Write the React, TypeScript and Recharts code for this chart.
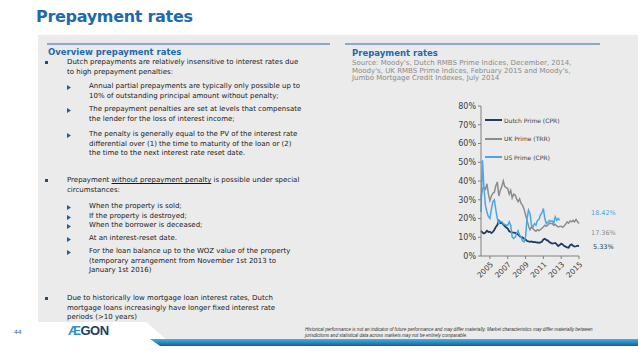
import { LineChart, Line, XAxis, YAxis, Legend } from 'recharts';

// tick labels
const years = [2004, 2005, 2006, 2007, 2008, 2009, 2010, 2011, 2012, 2013, 2014, 2015];
const pctTicks = [0, 10, 20, 30, 40, 50, 60, 70, 80];

// values, six readings per year (Jan 2004 .. Jan 2015)
const dutchPrime = [
  13.5, 12.5, 12.0, 12.5, 13.5, 12.8,
  13.0, 12.2, 12.8, 14.0, 15.5, 16.5,
  18.8, 17.5, 17.8, 16.8, 16.0, 15.2,
  14.6, 13.2, 12.8, 12.6, 12.5, 12.3,
  12.0, 11.5, 10.5, 10.2, 9.8, 9.2,
  8.8, 8.0, 7.8, 7.6, 7.8, 7.4,
  7.5, 7.3, 7.2, 7.0, 7.3, 7.6,
  8.8, 9.2, 8.6, 8.2, 7.5, 7.0,
  6.6, 6.8, 7.0, 6.2, 5.3, 5.8,
  6.6, 6.2, 5.3, 5.0, 4.6, 4.4,
  5.8, 6.2, 5.4, 5.0, 5.2, 5.5,
  5.33,
];
const ukPrime = [
  31.0, 36.0, 36.5, 35.5, 38.5, 33.0,
  29.5, 32.0, 33.5, 34.0, 37.5, 39.5,
  32.0, 35.0, 37.0, 40.0, 37.0, 36.5,
  36.0, 33.0, 35.0, 31.0, 33.0, 32.5,
  30.5, 29.0, 30.5, 28.0, 27.0, 25.0,
  22.0, 19.0, 16.0, 14.0, 15.5, 14.5,
  13.8, 13.2, 14.0, 13.5, 14.0, 14.8,
  15.5, 16.4, 15.8, 16.5, 17.5, 17.3,
  17.3, 16.4, 16.8, 16.0, 15.5, 15.8,
  15.9, 15.3, 16.0, 17.0, 18.2, 17.5,
  18.7, 18.2, 19.0, 18.2, 19.5, 18.2,
  17.36,
];
const usPrime = [
  23.5, 51.0, 36.0, 27.0, 23.5, 21.0,
  20.0, 25.0, 29.0, 30.0, 24.5, 20.0,
  17.3, 18.5, 18.2, 17.3, 16.8, 16.4,
  16.4, 18.2, 16.4, 10.2, 9.3, 10.0,
  12.0, 13.5, 11.0, 10.2, 8.0, 7.5,
  10.2, 20.0, 24.5, 22.6, 16.4, 15.5,
  17.3, 16.5, 19.0, 19.5, 21.8, 23.0,
  25.3, 20.0, 17.3, 18.0, 19.0, 18.5,
  18.75, 17.5, 20.9, 19.0, 20.0, 19.0,
];

const series = [
  { key: 'dutch', name: 'Dutch Prime (CPR)', color: '#1d3d63', width: 1.8 },
  { key: 'uk', name: 'UK Prime (TRR)', color: '#8c8c8c', width: 1.5 },
  { key: 'us', name: 'US Prime (CPR)', color: '#4da6e3', width: 1.5 },
];

const data = dutchPrime.map((v, i) => ({
  t: 2004 + i / 6,
  dutch: v,
  uk: ukPrime[i],
  us: i < usPrime.length ? usPrime[i] : null,
}));

const BLUE = '#1f69ad';
const FONT = '"DejaVu Sans", Verdana, sans-serif';

function ChartLegend() {
  return (
    <div style={{ fontFamily: FONT, fontSize: 6, color: '#404040' }}>
      {series.map((s) => (
        <div key={s.key} style={{ display: 'flex', alignItems: 'center', height: 18.5 }}>
          <span style={{ display: 'inline-block', width: 17, height: 2, background: s.color, marginRight: 2 }} />
          {s.name}
        </div>
      ))}
    </div>
  );
}

function Bullet({ top, sub, lines }: { top: number; sub?: boolean; lines: any[] }) {
  return (
    <div style={{ position: 'absolute', top, left: sub ? 67 : 44, lineHeight: '9.5px' }}>
      {sub ? (
        <svg width="4" height="5" style={{ position: 'absolute', left: 0, top: 3 }}>
          <polygon points="0,0 4,2.5 0,5" fill="#2a5d8f" />
        </svg>
      ) : (
        <span style={{ position: 'absolute', left: 1, top: 3, width: 2.5, height: 2.5, background: '#1f4e79' }} />
      )}
      <div style={{ marginLeft: sub ? 22 : 23, whiteSpace: 'nowrap' }}>
        {lines.map((l, i) => (
          <div key={i}>{l}</div>
        ))}
      </div>
    </div>
  );
}

export default function App() {
  return (
    <div
      style={{
        position: 'absolute', left: 0, top: 0, width: 638, height: 360, overflow: 'hidden',
        background: '#fff', fontFamily: FONT, color: '#1a1a1a',
      }}
    >
      <svg width={638} height={360} style={{ position: 'absolute', left: 0, top: 0 }}>
        <defs>
          <linearGradient id="stripe" x1="0" y1="0" x2="0" y2="1">
            <stop offset="0" stopColor="#3cb4e6" />
            <stop offset="1" stopColor="#1b5c9a" />
          </linearGradient>
        </defs>
        <polygon points="38,35 638,35 638,341 168,341 146,322 38,322" fill="#ebebeb" />
        <polygon points="150,339 638,339 638,346 160,346" fill="url(#stripe)" />
        <line x1={47} y1={44} x2={330} y2={44} stroke="#2b6aa3" strokeWidth={1} />
        <line x1={345} y1={44} x2={600} y2={44} stroke="#2b6aa3" strokeWidth={1} />
      </svg>

      <div style={{ position: 'absolute', left: 36, top: 7, fontSize: 16, fontWeight: 'bold', color: BLUE, letterSpacing: -0.3 }}>
        Prepayment rates
      </div>

      <div style={{ position: 'absolute', left: 0, top: 0, width: 638, height: 360, fontSize: 7 }}>
        <div style={{ position: 'absolute', left: 48, top: 47, fontSize: 8.5, fontWeight: 'bold', color: BLUE, lineHeight: '10px' }}>
          Overview prepayment rates
        </div>
        <Bullet top={58} lines={['Dutch prepayments are relatively insensitive to interest rates due', 'to high prepayment penalties:']} />
        <Bullet top={82} sub lines={['Annual partial prepayments are typically only possible up to', '10% of outstanding principal amount without penalty;']} />
        <Bullet top={105} sub lines={['The prepayment penalties are set at levels that compensate', 'the lender for the loss of interest income;']} />
        <Bullet top={130} sub lines={['The penalty is generally equal to the PV of the interest rate', 'differential over (1) the time to maturity of the loan or (2)', 'the time to the next interest rate reset date.']} />
        <Bullet top={176} lines={[<span>Prepayment <u>without prepayment penalty</u> is possible under special</span>, 'circumstances:']} />
        <Bullet top={202} sub lines={['When the property is sold;']} />
        <Bullet top={212} sub lines={['If the property is destroyed;']} />
        <Bullet top={221} sub lines={['When the borrower is deceased;']} />
        <Bullet top={234} sub lines={['At an interest-reset date.']} />
        <Bullet top={247} sub lines={['For the loan balance up to the WOZ value of the property', '(temporary arrangement from November 1st 2013 to', 'January 1st 2016)']} />
        <Bullet top={294} lines={['Due to historically low mortgage loan interest rates, Dutch', 'mortgage loans increasingly have longer fixed interest rate', 'periods (>10 years)']} />
      </div>

      <div style={{ position: 'absolute', left: 352, top: 48, fontSize: 8.5, fontWeight: 'bold', color: BLUE, lineHeight: '10px' }}>
        Prepayment rates
      </div>
      <div style={{ position: 'absolute', left: 352, top: 60, fontSize: 7, color: '#8a8a8a', lineHeight: '7.7px', whiteSpace: 'nowrap' }}>
        <div>Source: Moody's, Dutch RMBS Prime Indices, December, 2014,</div>
        <div>Moody's, UK RMBS Prime Indices, February 2015 and Moody's,</div>
        <div>Jumbo Mortgage Credit Indexes, July 2014</div>
      </div>

      <div style={{ position: 'absolute', left: 345, top: 95 }}>
        <LineChart width={290} height={196} data={data} margin={{ top: 11, right: 56, bottom: 0, left: 0 }}>
          <XAxis
            dataKey="t"
            type="number"
            domain={[2004, 2015]}
            ticks={years}
            tickFormatter={(v) => String(v)}
            angle={-45}
            textAnchor="end"
            height={35}
            tickSize={3}
            stroke="#808080"
            tick={{ fontSize: 7.5, fill: '#404040', fontFamily: FONT }}
          />
          <YAxis
            domain={[0, 80]}
            ticks={pctTicks}
            tickFormatter={(v) => `${v}%`}
            width={36}
            tickSize={3}
            stroke="#808080"
            tick={{ fontSize: 8, fill: '#404040', fontFamily: FONT }}
          />
          <Legend
            layout="vertical"
            verticalAlign="top"
            align="left"
            content={() => <ChartLegend />}
            wrapperStyle={{ top: 16, left: 140, width: 100 }}
          />
          {series.map((s) => (
            <Line
              key={s.key}
              type="linear"
              dataKey={s.key}
              name={s.name}
              stroke={s.color}
              strokeWidth={s.width}
              dot={false}
              isAnimationActive={false}
              connectNulls={false}
            />
          ))}
        </LineChart>
      </div>

      <div style={{ position: 'absolute', left: 591, top: 209, fontSize: 6.5, color: '#4da6e3' }}>18.42%</div>
      <div style={{ position: 'absolute', left: 591, top: 229, fontSize: 6.5, color: '#8c8c8c' }}>17.36%</div>
      <div style={{ position: 'absolute', left: 593, top: 243, fontSize: 6.5, color: '#1d3d63' }}>5.33%</div>

      <div style={{ position: 'absolute', left: 14, top: 328, fontSize: 6, color: BLUE }}>44</div>
      <div style={{ position: 'absolute', left: 68, top: 323, fontSize: 13, fontWeight: 'bold', color: '#1d3d63', letterSpacing: -0.5, fontFamily: '"Liberation Sans", Arial, sans-serif' }}>
        <span style={{ color: '#2a8fd6' }}>Æ</span>GON
      </div>
      <div
        style={{
          position: 'absolute', left: 305, top: 326, fontSize: 9.2, fontStyle: 'italic', color: '#333',
          lineHeight: '12px', whiteSpace: 'nowrap', transform: 'scale(0.5)', transformOrigin: 'left top',
          fontFamily: '"Liberation Sans", Arial, sans-serif',
        }}
      >
        <div>Historical performance is not an indicator of future performance and may differ materially. Market characteristics may differ materially between</div>
        <div>jurisdictions and statistical data across markets may not be entirely comparable.</div>
      </div>
    </div>
  );
}
